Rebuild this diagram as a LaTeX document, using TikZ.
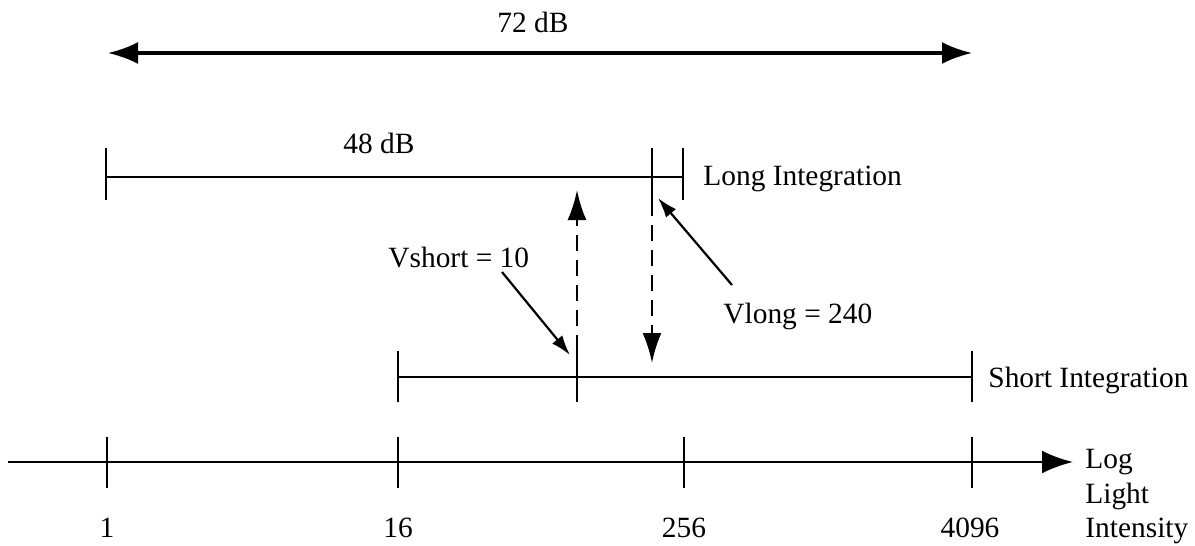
\documentclass[tikz,border=0pt]{standalone}
\usepackage{fontspec}
\setmainfont{Liberation Serif}
\usetikzlibrary{positioning, arrows.meta}

\begin{document}
\begin{tikzpicture}[
    x=0.5pt, y=-0.5pt,
    every node/.style={font=\fontsize{14.7}{17.25}\selectfont, inner sep=0pt},
    lbl/.style={anchor=base west},
    barline/.style={line width=1.3pt},
    tickline/.style={line width=1.2pt},
    bigarr/.style={{Latex[length=15pt, width=11pt]}-{Latex[length=15pt, width=11pt]}, line width=1.6pt},
    axisarr/.style={-{Latex[length=15.5pt, width=11.5pt]}, line width=1.3pt},
    dasharr/.style={-{Latex[length=15pt, width=9.5pt]}, line width=1.3pt, dash pattern=on 8pt off 4.5pt},
    ptrarr/.style={-{Latex[length=10pt, width=6.5pt]}, line width=1.1pt},
]
\useasboundingbox (0,0) rectangle (1195,546);

% 72 dB span
\coordinate (spanL) at (108,53);
\coordinate (spanR) at (972,53);
\draw[bigarr] (spanL) -- (spanR);
\node (db72) at (533,22) {72 dB};

% Long integration bar
\coordinate (longL) at (106,177);
\coordinate (longM) at (652,177);
\coordinate (longR) at (683,177);
\draw[barline] (longL) -- (longR);
\draw[tickline] (longL) ++(0,-29) -- ++(0,52);
\draw[tickline] (longM) ++(0,-29) -- ++(0,52) coordinate (longMbot);
\draw[tickline] (longR) ++(0,-29) -- ++(0,52);
\node[lbl] (db48) at (343,153) {48 dB};
\node[lbl] (longlbl) at (703,185) {Long Integration};

% Short integration bar
\coordinate (shortL) at (398,377);
\coordinate (shortM) at (577,377);
\coordinate (shortR) at (972,377);
\draw[barline] (shortL) -- (shortR);
\draw[tickline] (shortL) ++(0,-26) -- ++(0,51);
\draw[tickline] (shortM) ++(0,25) -- ++(0,-51) coordinate (shortMtop);
\draw[tickline] (shortR) ++(0,-26) -- ++(0,51);
\node[lbl] (shortlbl) at (988,387) {Short Integration};

% Transfer between the two integrations
\coordinate (upEnd) at (577,190);
\coordinate (downEnd) at (652,363);
\draw[dasharr] (shortMtop) -- (upEnd);
\draw[dasharr] (longMbot) -- (downEnd);

% Threshold pointers
\node[lbl] (vshort) at (388,267) {Vshort = 10};
\node[lbl] (vlong) at (723,323) {Vlong = 240};
\coordinate (vshortTail) at (502,272);
\coordinate (vshortTip) at (570,355);
\coordinate (vlongTail) at (732,285);
\coordinate (vlongTip) at (658,198);
\draw[ptrarr] (vshortTail) -- (vshortTip);
\draw[ptrarr] (vlongTail) -- (vlongTip);

% Log light intensity axis
\coordinate (axL) at (8,462);
\coordinate (axR) at (1073,462);
\draw[axisarr] (axL) -- (axR);
\coordinate (t1) at (107,462);
\coordinate (t16) at (398,462);
\coordinate (t256) at (684,462);
\coordinate (t4096) at (972,462);
\draw[tickline] (t1) ++(0,-25) -- ++(0,51);
\draw[tickline] (t16) ++(0,-25) -- ++(0,51);
\draw[tickline] (t256) ++(0,-25) -- ++(0,51);
\draw[tickline] (t4096) ++(0,-25) -- ++(0,51);
\node[anchor=base] (n1) at (107,537) {1};
\node[anchor=base] (n16) at (398,537) {16};
\node[anchor=base] (n256) at (684,537) {256};
\node[anchor=base] (n4096) at (970,537) {4096};
\node[lbl] (axlog) at (1085,468) {Log};
\node[lbl] (axlight) at (1085,503) {Light};
\node[lbl] (axint) at (1085,537) {Intensity};

\end{tikzpicture}
\end{document}
